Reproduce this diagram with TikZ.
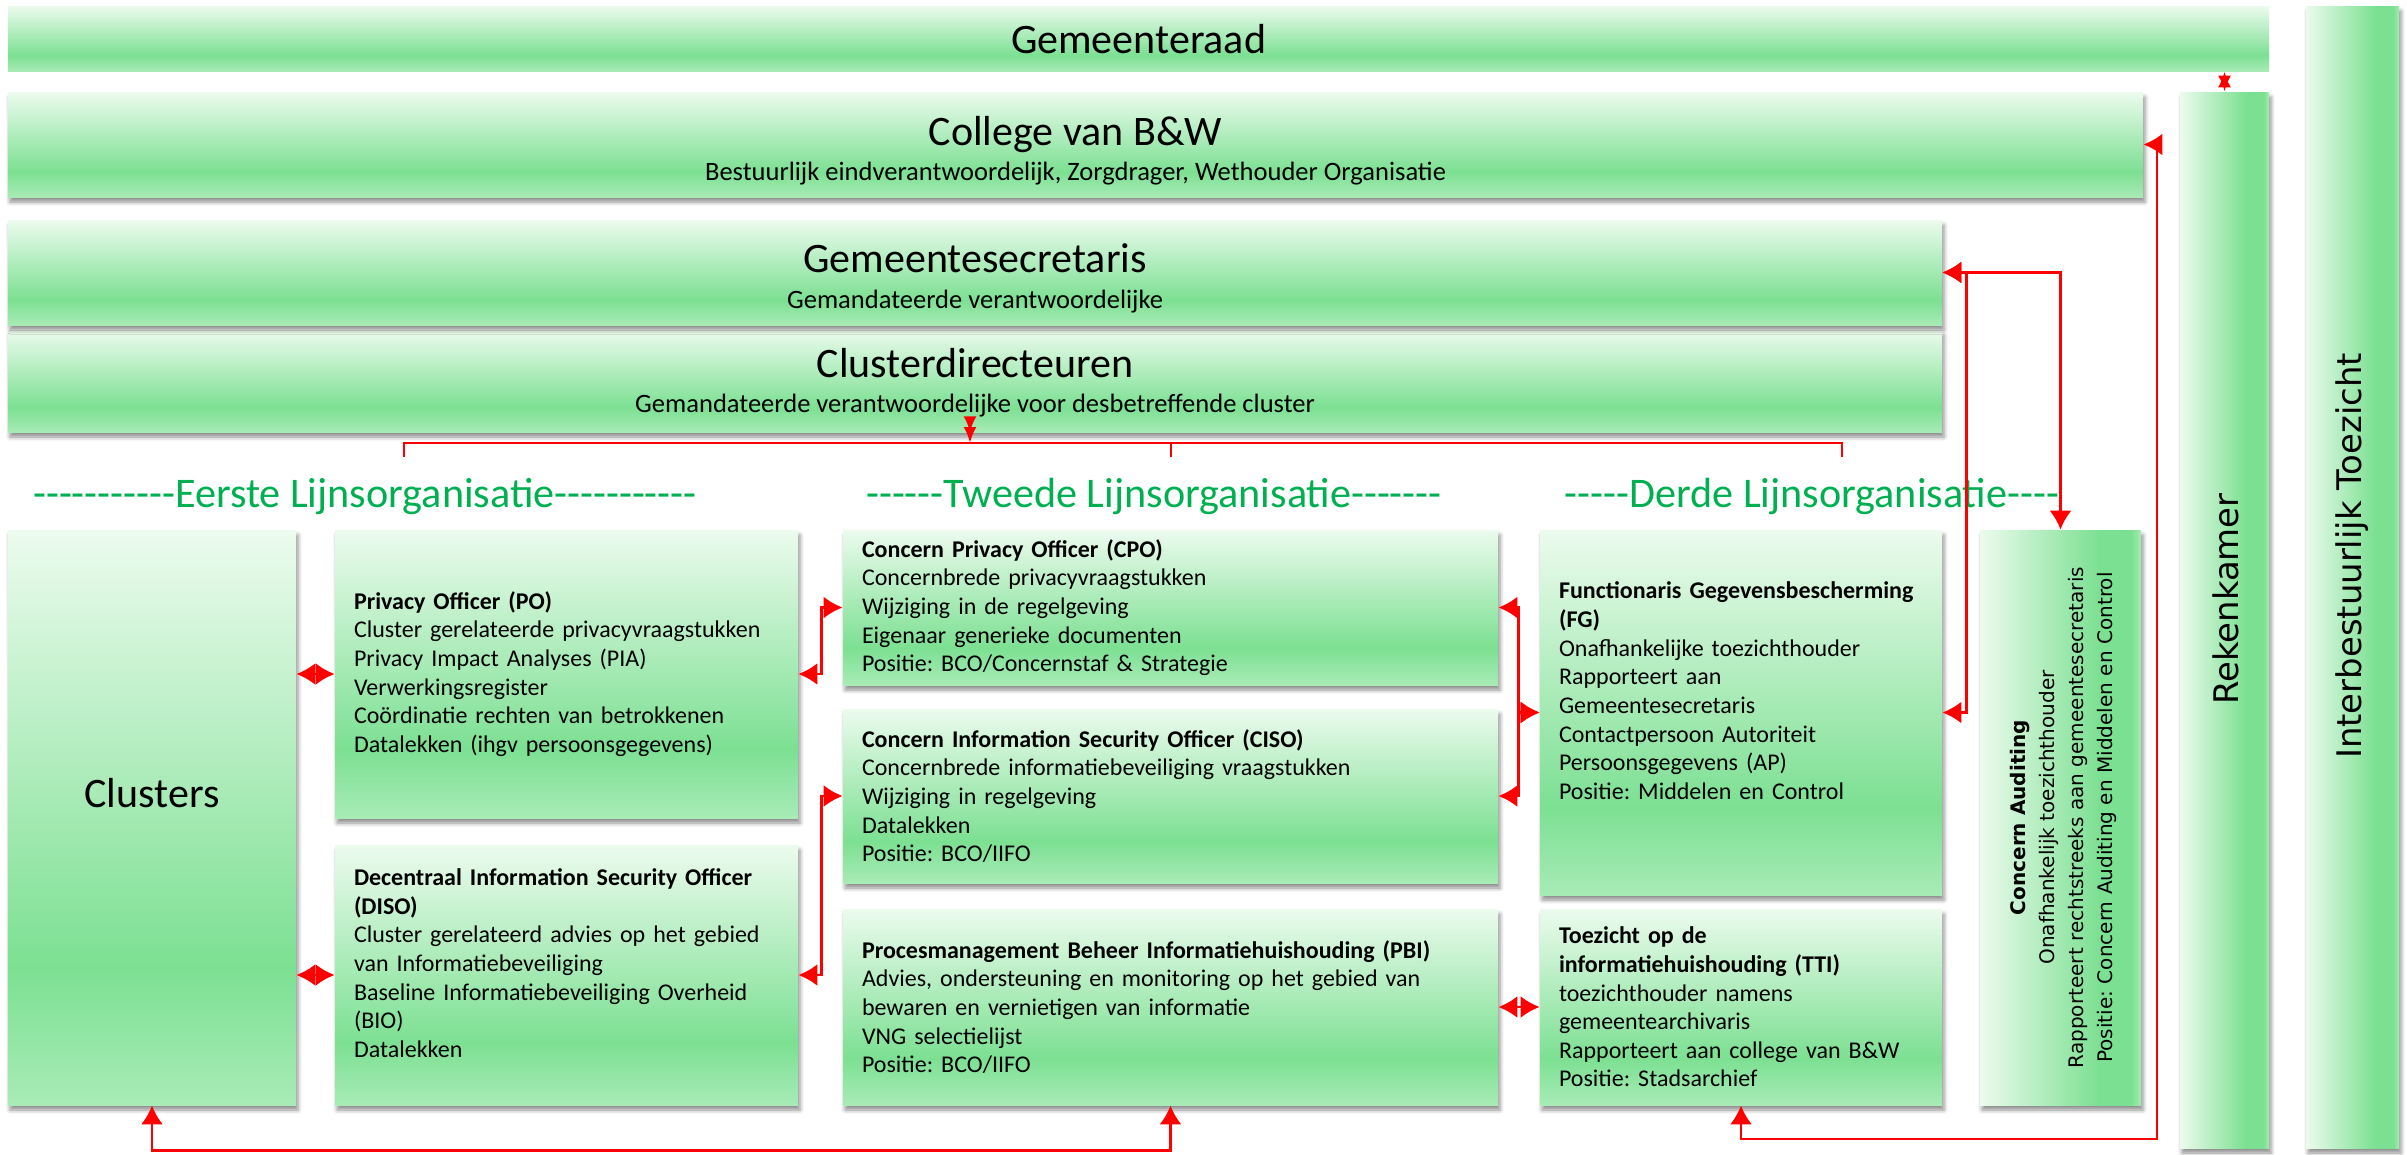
\documentclass[tikz,border=0pt]{standalone}
\usepackage{fontspec}
\setmainfont{Carlito}[Ligatures=TeXOff]
\newfontfamily\balkfont{DejaVu Sans}
\usepackage{tikz, tkz-euclide}
\usetikzlibrary{arrows.meta, shadows.blur}
\frenchspacing

\definecolor{groenlicht}{RGB}{236,251,238}
\definecolor{groen}{RGB}{124,224,146}
\definecolor{groenrand}{RGB}{168,235,182}
\definecolor{lijngroen}{RGB}{0,176,80}
\definecolor{pijlrood}{RGB}{255,0,0}

\pgfdeclareverticalshading{vakkleur}{100bp}{color(0bp)=(groenrand); color(25bp)=(groenrand); color(37bp)=(groen); color(75bp)=(groenlicht); color(100bp)=(groenlicht)}
\pgfdeclarehorizontalshading{balkkleur}{100bp}{color(0bp)=(groenlicht); color(25bp)=(groenlicht); color(62bp)=(groen); color(72bp)=(groen); color(75bp)=(groenrand); color(100bp)=(groenrand)}

\tikzset{
	schaduw/.style={blur shadow={shadow xshift=0.04cm, shadow yshift=-0.1cm, shadow blur radius=0.08cm, shadow opacity=45}},
	vlak/.style={shading=vakkleur, inner sep=0pt},
	vak/.style={vlak, schaduw},
	balk/.style={shading=balkkleur, inner sep=0pt, schaduw},
	tekstvak/.style={vak, align=left, inner xsep=0.38cm, font=\fontsize{13.66}{16.3}\selectfont},
	titel/.style={anchor=base, font=\fontsize{23.9}{28}\selectfont},
	ondertitel/.style={anchor=base, font=\fontsize{15.1}{18}\selectfont},
	kop/.style={anchor=base, text=lijngroen, font=\fontsize{24}{28}\selectfont},
	staand/.style={rotate=90, font=\balkfont\fontsize{19.3}{23}\selectfont},
	pijl/.style={pijlrood, line width=1.6pt, <->, >={Latex[length=0.38cm, width=0.44cm]}},
	kleinpijl/.style={pijlrood, line width=1.6pt, <->, >={Latex[length=0.32cm, width=0.26cm]}},
	lijn/.style={pijlrood, line width=1.6pt}
}

\begin{document}
\begin{tikzpicture}
	\useasboundingbox (0,0) rectangle (48.14,-23.08);
	\tkzDefPoints{43.14/-22.78/K1, 19.40/-8.86/M, 8.08/-9.14/D1, 23.42/-9.14/D2, 36.84/-9.14/D3}
	
	\node[vlak, minimum width=45.22cm, minimum height=1.30cm] (raad) at (22.77,-0.77) {};
	\node[vak, minimum width=42.70cm, minimum height=2.10cm] (college) at (21.51,-2.89) {};
	\node[vak, minimum width=38.68cm, minimum height=2.04cm] (cd) at (19.50,-7.62) {};
	\node[vak, minimum width=38.68cm, minimum height=2.10cm] (gs) at (19.50,-5.45) {};
	
	\node[balk, minimum width=1.86cm, minimum height=22.84cm] (ibt) at (47.05,-11.54) {};
	\node[balk, minimum width=1.78cm, minimum height=21.12cm] (rek) at (44.49,-12.40) {};
	\node[balk, minimum width=3.22cm, minimum height=11.50cm] (audit) at (41.21,-16.35) {};
	\node[vak, minimum width=5.76cm, minimum height=11.50cm] (clusters) at (3.04,-16.35) {};
	
	\node[tekstvak, text width=8.50cm, minimum height=5.76cm] (po) at (11.33,-13.48) {\textbf{Privacy Officer (PO)}\\Cluster gerelateerde privacyvraagstukken\\Privacy Impact Analyses (PIA)\\Verwerkingsregister\\Coördinatie rechten van betrokkenen\\Datalekken (ihgv persoonsgegevens)};
	\node[tekstvak, text width=8.50cm, minimum height=5.20cm] (diso) at (11.33,-19.50) {\textbf{Decentraal Information Security Officer}\\\textbf{(DISO)}\\Cluster gerelateerd advies op het gebied\\van Informatiebeveiliging\\Baseline Informatiebeveiliging Overheid\\(BIO)\\Datalekken\\[-0.1cm]\mbox{}};
	\node[tekstvak, text width=12.34cm, minimum height=3.10cm] (cpo) at (23.41,-12.15) {\textbf{Concern Privacy Officer (CPO)}\\Concernbrede privacyvraagstukken\\Wijziging in de regelgeving\\Eigenaar generieke documenten\\Positie: BCO/Concernstaf \& Strategie};
	\node[tekstvak, text width=12.34cm, minimum height=3.48cm] (ciso) at (23.41,-15.92) {\textbf{Concern Information Security Officer (CISO)}\\Concernbrede informatiebeveiliging vraagstukken\\Wijziging in regelgeving\\Datalekken\\Positie: BCO/IIFO};
	\node[tekstvak, text width=12.34cm, minimum height=3.92cm] (pbi) at (23.41,-20.14) {\textbf{Procesmanagement Beheer Informatiehuishouding (PBI)}\\Advies, ondersteuning en monitoring op het gebied van\\bewaren en vernietigen van informatie\\VNG selectielijst\\Positie: BCO/IIFO};
	\node[tekstvak, text width=7.28cm, minimum height=7.30cm] (fg) at (34.82,-14.25) {\textbf{Functionaris Gegevensbescherming}\\\textbf{(FG)}\\Onafhankelijke toezichthouder\\Rapporteert aan\\Gemeentesecretaris\\Contactpersoon Autoriteit\\Persoonsgegevens (AP)\\Positie: Middelen en Control\\[0.3cm]\mbox{}};
	\node[tekstvak, text width=7.28cm, minimum height=3.92cm] (tti) at (34.82,-20.14) {\textbf{Toezicht op de}\\\textbf{informatiehuishouding (TTI)}\\toezichthouder namens\\gemeentearchivaris\\Rapporteert aan college van B\&W\\Positie: Stadsarchief};
	
	\node[titel] (raadT) at (22.77,-1.06) {Gemeenteraad};
	\node[titel] (collegeT) at (21.51,-2.90) {College van B\&W};
	\node[ondertitel] (collegeS) at (21.51,-3.60) {Bestuurlijk eindverantwoordelijk, Zorgdrager, Wethouder Organisatie};
	\node[titel] (gsT) at (19.50,-5.44) {Gemeentesecretaris};
	\node[ondertitel] (gsS) at (19.50,-6.16) {Gemandateerde verantwoordelijke};
	\node[titel] (cdT) at (19.50,-7.54) {Clusterdirecteuren};
	\node[ondertitel] (cdS) at (19.50,-8.24) {Gemandateerde verantwoordelijke voor desbetreffende cluster};
	\node[titel] (clustersT) at (3.04,-16.14) {Clusters};
	
	\node[kop] (eerste) at (7.30,-10.14) {-----------Eerste Lijnsorganisatie-----------};
	\node[kop] (tweede) at (23.08,-10.14) {------Tweede Lijnsorganisatie-------};
	\node[kop] (derde) at (36.24,-10.14) {-----Derde Lijnsorganisatie----};
	
	\node[staand] (rekT) at (44.52,-11.98) {Rekenkamer};
	\node[staand] (ibtT) at (47.05,-11.12) {Interbestuurlijk Toezicht};
	\node[rotate=90, align=center, font=\balkfont\fontsize{11.4}{16.5}\selectfont] (auditT) at (41.26,-16.35) {\textbf{Concern Auditing}\\Onafhankelijk toezichthouder\\Rapporteert rechtstreeks aan gemeentesecretaris\\Positie: Concern Auditing en Middelen en Control};
	
	\draw[kleinpijl] (raad.south -| rek.north) -- (rek.north);
	\draw[pijl] (tti.south) |- (K1) |- (college.east);
	\draw[pijl] (gs.east) -| (audit.north);
	\draw[pijl] (gs.east) -- ++(0.48,0) |- (fg.east);
	
	\draw[lijn] (D1) -- (D1 |- M) -- (D3 |- M) -- (D3);
	\draw[lijn] (D2) -- (D2 |- M);
	\draw[kleinpijl] (cd.south -| M) -- (M);
	
	\draw[pijl] (clusters.east |- po.west) -- (po.west);
	\draw[pijl] (clusters.east |- diso.west) -- (diso.west);
	\draw[pijl] (po.east) -- ++(0.46,0) |- (cpo.west);
	\draw[pijl] (diso.east) -- ++(0.46,0) |- (ciso.west);
	\draw[pijl] (cpo.east) -- ++(0.4,0) |- (fg.west);
	\draw[pijl] (ciso.east) -- ++(0.4,0) |- (fg.west);
	\draw[pijl] (pbi.east) -- (tti.west);
	\draw[pijl] (clusters.south) -- ++(0,-0.9) -| (pbi.south);
\end{tikzpicture}
\end{document}
